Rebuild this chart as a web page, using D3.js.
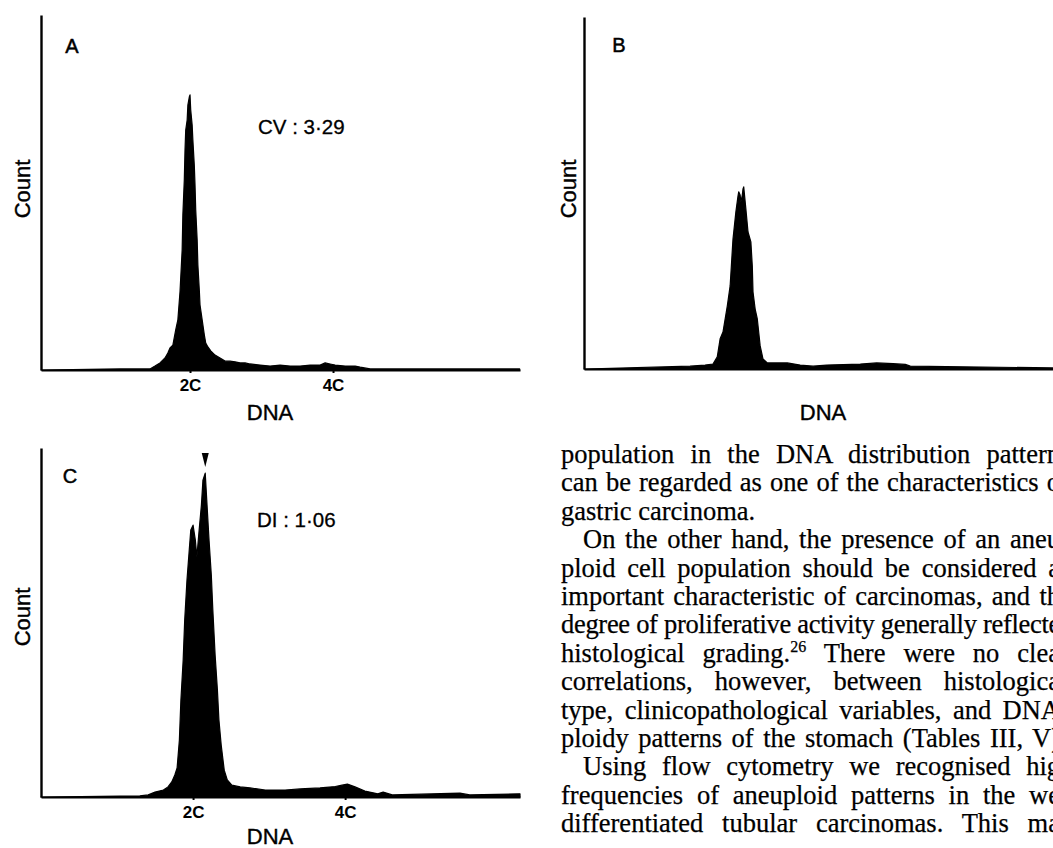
<!DOCTYPE html>
<html>
<head>
<meta charset="utf-8">
<script src="https://cdn.jsdelivr.net/npm/d3@7"></script>
<style>
  body { margin: 0; background: #fff; }
  svg { display: block; }
</style>
</head>
<body>
<script>
// DNA content (C units) and counts
var dnaA = [-0.08, 1.02, 1.44, 1.51, 1.58, 1.65, 1.69, 1.72, 1.76, 1.80, 1.83, 1.86, 1.89, 1.90, 1.92, 1.93, 1.94, 1.96, 1.97, 1.99,
  2.00, 2.01, 2.03, 2.04, 2.06, 2.07, 2.08, 2.10, 2.11, 2.13, 2.14, 2.17, 2.20, 2.22, 2.25, 2.29, 2.35, 2.42, 2.49, 2.56,
  2.63, 2.70, 2.77, 2.84, 2.98, 3.12, 3.26, 3.40, 3.54, 3.68, 3.82, 3.89, 3.96, 4.03, 4.17, 4.31, 4.38, 4.52, 6.61];
var countA = [0, 3, 3, 11, 20, 34, 48, 62, 70, 113, 141, 220, 338, 437, 535, 620, 676, 704, 746, 769,
  775, 732, 690, 648, 577, 521, 451, 366, 296, 225, 183, 141, 99, 76, 65, 54, 42, 34, 25, 25,
  23, 20, 20, 17, 14, 11, 14, 11, 11, 14, 14, 20, 17, 14, 11, 11, 8, 3, 3];

var dnaB = [-0.22, 1.26, 1.47, 1.58, 1.64, 1.68, 1.72, 1.78, 1.82, 1.86, 1.90, 1.93, 1.94, 1.96, 1.97, 1.99, 2.00, 2.01, 2.04,
  2.07, 2.11, 2.13, 2.14, 2.17, 2.20, 2.24, 2.28, 2.34, 2.62, 2.80, 2.98, 3.17, 3.64, 3.87, 4.10, 4.27, 4.34, 6.34];
var countB = [0, 8, 11, 14, 34, 85, 104, 177, 234, 366, 442, 487, 499, 490, 470, 490, 507, 513, 451,
  386, 358, 290, 217, 169, 141, 65, 28, 17, 17, 11, 8, 11, 14, 17, 15, 13, 8, 3];

var dnaC = [0, 1.30, 1.41, 1.50, 1.61, 1.67, 1.72, 1.76, 1.79, 1.82, 1.84, 1.87, 1.89, 1.92, 1.95, 1.97, 2.00, 2.03, 2.05,
  2.08, 2.11, 2.13, 2.16, 2.18, 2.21, 2.24, 2.26, 2.29, 2.32, 2.34, 2.37, 2.41, 2.45, 2.51, 2.62, 2.75, 2.95, 3.21,
  3.41, 3.67, 3.87, 3.96, 4.03, 4.13, 4.26, 4.43, 4.50, 4.62, 5.51, 5.64, 6.30];
var countC = [0, 3, 6, 14, 20, 29, 43, 63, 83, 163, 278, 393, 507, 622, 708, 765, 779, 736, 688,
  765, 837, 908, 928, 851, 736, 636, 536, 407, 307, 221, 149, 77, 49, 34, 29, 26, 20, 20,
  23, 26, 30, 34, 37, 29, 17, 9, 14, 6, 11, 6, 9];

var tickValues = [2, 4];
var tickLabels = ["2C", "4C"];
var markerC = 2.16;   // arrowhead over the aneuploid peak

var bodyLines = [
  "population in the DNA distribution pattern",
  "can be regarded as one of the characteristics o",
  "gastric carcinoma.",
  "On the other hand, the presence of an aneu",
  "ploid cell population should be considered a",
  "important characteristic of carcinomas, and th",
  "degree of proliferative activity generally reflecte",
  "histological grading.^26 There were no clea",
  "correlations, however, between histologica",
  "type, clinicopathological variables, and DNA",
  "ploidy patterns of the stomach (Tables III, V)",
  "Using flow cytometry we recognised hig",
  "frequencies of aneuploid patterns in the we",
  "differentiated tubular carcinomas. This ma"
];

var svg = d3.select("body")
  .append("svg")
  .attr("width", 1053)
  .attr("height", 848);

var sans = "'Liberation Sans', Arial, sans-serif";

drawPanel({ name: "A", dna: dnaA, count: countA, xRange: [41, 520], xDomain: [-0.084, 6.615],
  yRange: [370, 15], axisTop: 15, ticks: true, letter: [72, 53], countAt: [22, 189], dnaAt: [270, 420],
  note: "CV : 3\u00b729", noteAt: [258, 134] });

drawPanel({ name: "B", dna: dnaB, count: countB, xRange: [584, 1053], xDomain: [-0.224, 6.336],
  yRange: [369, 14], axisTop: 17, ticks: false, letter: [619, 52], countAt: [568, 189], dnaAt: [823, 420] });

drawPanel({ name: "C", dna: dnaC, count: countC, xRange: [41, 520], xDomain: [0, 6.30],
  yRange: [797, 448], axisTop: 448, ticks: true, letter: [70, 483], countAt: [22, 617], dnaAt: [270, 844],
  note: "DI : 1\u00b706", noteAt: [257, 527], marker: markerC });

function drawPanel(p) {
  var g = svg.append("g").attr("class", "panel").attr("id", "panel" + p.name);

  var x = d3.scaleLinear().domain(p.xDomain).range(p.xRange);
  var y = d3.scaleLinear().domain([0, 1000]).range(p.yRange);

  var area = d3.area()
    .x(function(d) { return x(d[0]); })
    .y0(y(0))
    .y1(function(d) { return y(d[1]); });

  g.append("path")
    .datum(d3.zip(p.dna, p.count))
    .attr("d", area)
    .attr("fill", "#000")
    .attr("stroke", "#000")
    .attr("stroke-width", 1.2)
    .attr("stroke-linejoin", "round");

  var xAxis = d3.axisBottom(x)
    .tickValues(p.ticks ? tickValues : [])
    .tickFormat(function(d) { return tickLabels[tickValues.indexOf(d)]; })
    .tickSize(3)
    .tickSizeOuter(0);

  var ax = g.append("g")
    .attr("transform", "translate(0," + p.yRange[0] + ")")
    .call(xAxis);
  ax.select(".domain").attr("stroke", "#000").attr("stroke-width", 2.2);
  ax.selectAll(".tick line").attr("stroke", "#000").attr("stroke-width", 2);
  ax.selectAll(".tick text")
    .attr("y", 21)
    .attr("dy", null)
    .attr("fill", "#000")
    .attr("font-family", sans)
    .attr("font-size", 17)
    .attr("font-weight", "bold");

  var yAxis = d3.scaleLinear().domain([0, 1]).range([p.yRange[0], p.axisTop]);
  var ay = g.append("g")
    .attr("transform", "translate(" + p.xRange[0] + ",0)")
    .call(d3.axisLeft(yAxis).tickValues([]).tickSizeOuter(0));
  ay.select(".domain").attr("stroke", "#000").attr("stroke-width", 2.4);

  g.append("text")
    .attr("x", p.letter[0])
    .attr("y", p.letter[1])
    .attr("text-anchor", "middle")
    .attr("font-family", sans)
    .attr("font-size", 20)
    .attr("fill", "#000")
    .attr("stroke", "#000")
    .attr("stroke-width", 0.5)
    .text(p.name);

  g.append("text")
    .attr("transform", "translate(" + p.countAt[0] + "," + p.countAt[1] + ") rotate(-90)")
    .attr("text-anchor", "middle")
    .attr("dy", "0.35em")
    .attr("font-family", sans)
    .attr("font-size", 22)
    .attr("fill", "#000")
    .attr("stroke", "#000")
    .attr("stroke-width", 0.4)
    .text("Count");

  g.append("text")
    .attr("x", p.dnaAt[0])
    .attr("y", p.dnaAt[1])
    .attr("text-anchor", "middle")
    .attr("font-family", sans)
    .attr("font-size", 22)
    .attr("fill", "#000")
    .attr("stroke", "#000")
    .attr("stroke-width", 0.4)
    .text("DNA");

  if (p.note) {
    g.append("text")
      .attr("x", p.noteAt[0])
      .attr("y", p.noteAt[1])
      .attr("font-family", sans)
      .attr("font-size", 20.5)
      .attr("fill", "#000")
      .attr("stroke", "#000")
      .attr("stroke-width", 0.3)
      .text(p.note);
  }

  if (p.marker != null) {
    g.append("path")
      .attr("transform", "translate(" + x(p.marker) + "," + (p.axisTop + 12) + ")")
      .attr("d", "M-3.5,-7L3.5,-7L0,7Z")
      .attr("fill", "#000");
  }
}

// body text column on the right of panel C
var serif = "'Liberation Serif', 'Times New Roman', serif";
var textLeft = 561, indentLeft = 583, textRight = 1060;

var body = svg.append("g").attr("class", "body-text");

bodyLines.forEach(function(line, i) {
  var indented = (i === 3 || i === 11);
  var short = (i === 2);
  var x0 = indented ? indentLeft : textLeft;

  var t = body.append("text")
    .attr("x", x0)
    .attr("y", 463 + i * 28.4)
    .attr("font-family", serif)
    .attr("font-size", 26.5)
    .attr("fill", "#000")
    .attr("stroke", "#000")
    .attr("stroke-width", 0.25);

  var parts = line.split(/\^(\d+)/);
  parts.forEach(function(s, k) {
    if (k % 2 === 1) {
      t.append("tspan").attr("font-size", 16).attr("dy", -10).text(s);
    } else if (k > 0) {
      t.append("tspan").attr("dy", 10).text(s);
    } else {
      t.append("tspan").text(s);
    }
  });

  if (!short) {
    var natural = t.node().getComputedTextLength();
    var room = textRight - x0 - natural;
    if (room >= 0) {
      var spaces = (line.match(/ /g) || []).length;
      t.style("word-spacing", (room / spaces) + "px");
    } else {
      // too long: tighten letters a little instead of crushing the spaces
      var chars = line.replace(/\^/g, "").length;
      t.style("letter-spacing", (room / chars) + "px");
    }
  }
});
</script>
</body>
</html>
